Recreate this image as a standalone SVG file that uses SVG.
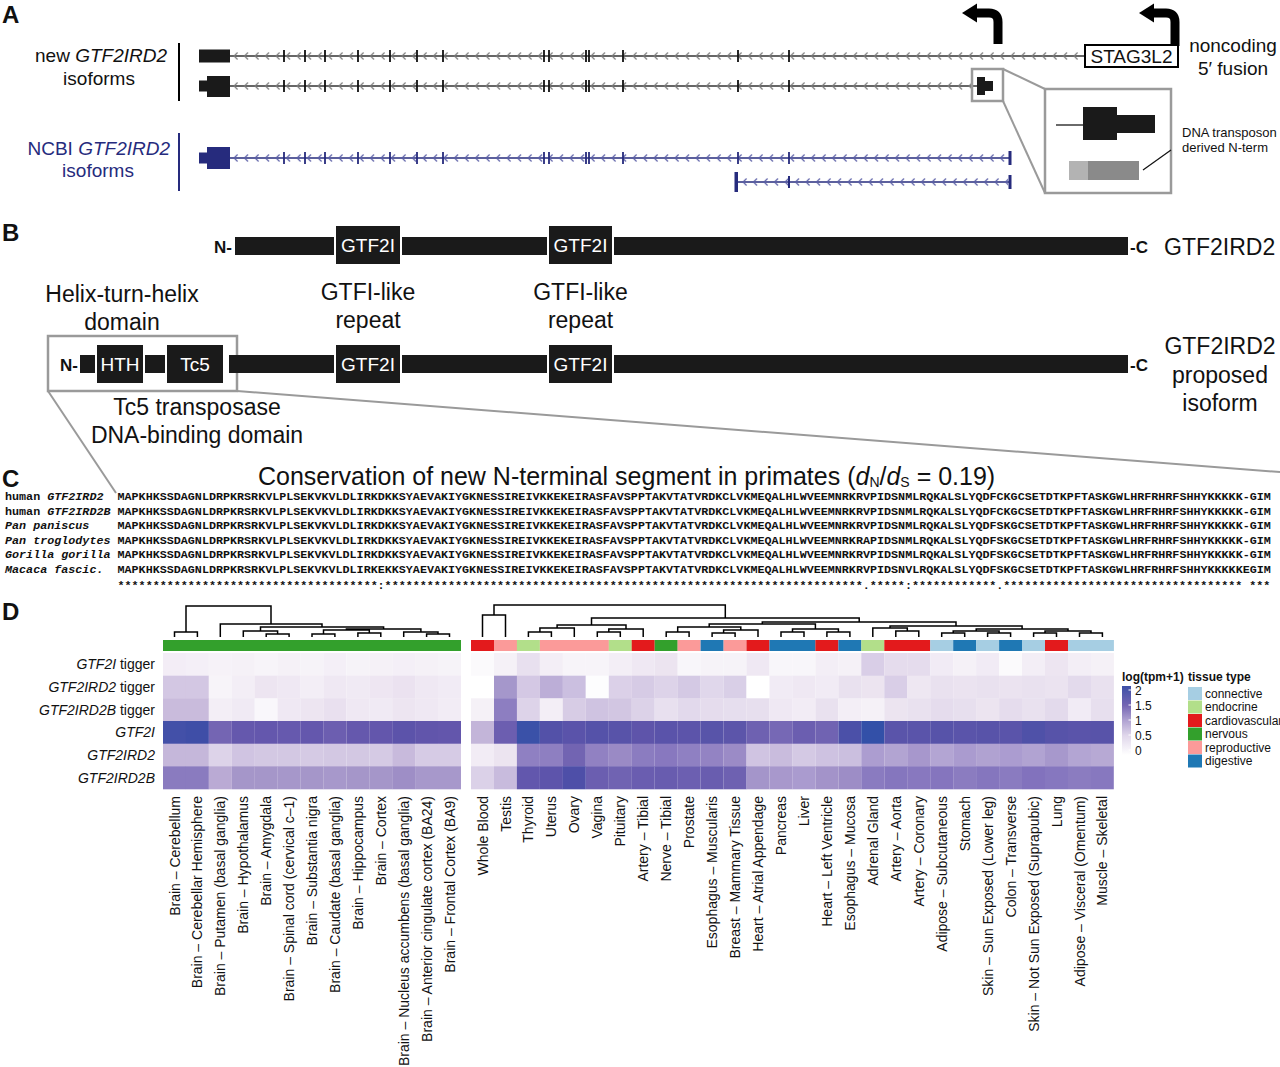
<svg xmlns="http://www.w3.org/2000/svg" width="1280" height="1067" viewBox="0 0 1280 1067">
<style>
text{font-family:"Liberation Sans",Arial,Helvetica,sans-serif;fill:#111}
.it{font-style:italic}
.pl{font-weight:bold;font-size:24px}
.a19{font-size:19px}
.b23{font-size:23px}
.wl{fill:#fff;font-size:19px;text-anchor:middle}
.nc{font-weight:bold;font-size:17px}
.mono{font-family:"Liberation Mono","Courier New",monospace;font-weight:bold;font-size:11.72px}
.rl{font-size:14px;text-anchor:end}
.cl{font-size:14px;text-anchor:end}
.lg{font-size:12px}
.lgb{font-size:12px;font-weight:bold}
.navy{fill:#262b7d}
.dg{fill:none;stroke:#000;stroke-width:1.5}
.zf{fill:none;stroke:#9a9a9a;stroke-width:2.5}
.box{fill:#1a1a1a;stroke:#fff;stroke-width:2}
</style>
<defs>
<pattern id="chk" patternUnits="userSpaceOnUse" x="0" y="-5" width="10.5" height="10"><path d="M6.5,1.5 L3,5 L6.5,8.5" fill="none" stroke="#7a7a7a" stroke-width="1.1"/></pattern>
<pattern id="chn" patternUnits="userSpaceOnUse" x="0" y="-5" width="10.5" height="10"><path d="M6.5,1.5 L3,5 L6.5,8.5" fill="none" stroke="#5a5ea6" stroke-width="1.1"/></pattern>
<linearGradient id="scale" x1="0" y1="0" x2="0" y2="1">
<stop offset="0" stop-color="#3d4fa6"/><stop offset="0.28" stop-color="#7465b3"/><stop offset="0.5" stop-color="#b0a3d2"/><stop offset="0.72" stop-color="#e0d7eb"/><stop offset="1" stop-color="#ffffff"/>
</linearGradient>
</defs>
<rect width="1280" height="1067" fill="#fff"/>

<!-- ================= PANEL A ================= -->
<g id="panelA">
<text class="pl" x="2" y="23">A</text>
<g id="labelNew">
<text class="a19" x="167" y="62" text-anchor="end">new <tspan class="it">GTF2IRD2</tspan></text>
<text class="a19" x="99" y="85" text-anchor="middle">isoforms</text>
<line x1="179" y1="43" x2="179" y2="101" stroke="#000" stroke-width="2"/>
</g>
<g id="labelNCBI">
<text class="a19 navy" x="170" y="155" text-anchor="end">NCBI <tspan class="it">GTF2IRD2</tspan></text>
<text class="a19 navy" x="98" y="177" text-anchor="middle">isoforms</text>
<line x1="179" y1="133" x2="179" y2="191" stroke="#262b7d" stroke-width="2"/>
</g>
<g id="trackNew1">
<line x1="230" y1="56" x2="1085" y2="56" stroke="#333" stroke-width="1.3"/>
<g transform="translate(231,56)"><rect y="-5" width="852" height="10" fill="url(#chk)"/></g>
<rect x="199" y="49.5" width="31" height="13" fill="#1a1a1a"/>
<path d="M284,50V62M305,50V62M325,50V62M358,50V62M390,50V62M417,50V62M443,50V62M544,50V62M549,50V62M586,50V62M589,50V62M623,50V62M738,50V62M789,50V62" stroke="#111" stroke-width="1.8"/>
</g>
<g id="trackNew2">
<line x1="230" y1="86" x2="977" y2="86" stroke="#333" stroke-width="1.3"/>
<g transform="translate(231,86)"><rect y="-5" width="745" height="10" fill="url(#chk)"/></g>
<rect x="199" y="80.5" width="9" height="11" fill="#1a1a1a"/>
<rect x="207" y="76" width="23" height="21" fill="#1a1a1a"/>
<path d="M284,80V92M305,80V92M325,80V92M358,80V92M390,80V92M417,80V92M443,80V92M544,80V92M549,80V92M586,80V92M589,80V92M623,80V92M738,80V92M789,80V92" stroke="#111" stroke-width="1.8"/>
<rect x="977" y="77" width="8" height="18" fill="#1a1a1a"/>
<rect x="984" y="81" width="9" height="10" fill="#1a1a1a"/>
</g>
<g id="trackNCBI1">
<line x1="230" y1="158" x2="1010" y2="158" stroke="#262b7d" stroke-width="1.3"/>
<g transform="translate(231,158)"><rect y="-5" width="777" height="10" fill="url(#chn)"/></g>
<rect x="199" y="152.5" width="9" height="11" fill="#262b7d"/>
<rect x="207" y="147" width="23" height="22" fill="#262b7d"/>
<path d="M284,152V164M305,152V164M325,152V164M358,152V164M390,152V164M417,152V164M443,152V164M544,152V164M549,152V164M586,152V164M589,152V164M623,152V164M738,152V164M789,152V164" stroke="#262b7d" stroke-width="1.8"/>
<rect x="1008.5" y="151" width="3" height="14" fill="#262b7d"/>
</g>
<g id="trackNCBI2">
<line x1="737" y1="182" x2="1010" y2="182" stroke="#262b7d" stroke-width="1.3"/>
<g transform="translate(740,182)"><rect y="-5" width="268" height="10" fill="url(#chn)"/></g>
<rect x="734.5" y="172" width="3.5" height="20" fill="#262b7d"/>
<path d="M789,176V188" stroke="#262b7d" stroke-width="2"/>
<rect x="1008.5" y="175" width="3" height="14" fill="#262b7d"/>
</g>
<g id="promoter1">
<path d="M998,44 V22 Q998,13 989,13 H975" fill="none" stroke="#000" stroke-width="9"/>
<polygon points="962,13 977,3.5 977,22.5" fill="#000"/>
</g>
<g id="promoter2">
<path d="M1175,46 V22 Q1175,13 1166,13 H1152" fill="none" stroke="#000" stroke-width="9"/>
<polygon points="1139,13 1154,3.5 1154,22.5" fill="#000"/>
</g>
<g id="stag3l2">
<rect x="1085" y="45" width="93" height="22" fill="#fff" stroke="#000" stroke-width="2"/>
<text class="a19" x="1131.5" y="63" text-anchor="middle">STAG3L2</text>
</g>
<text class="a19" x="1233" y="52" text-anchor="middle">noncoding</text>
<text class="a19" x="1233" y="75" text-anchor="middle">5′ fusion</text>
<g id="inset">
<rect class="zf" x="972" y="69" width="31" height="32"/>
<line x1="1003" y1="69" x2="1045" y2="89" stroke="#9a9a9a" stroke-width="2"/>
<line x1="1003" y1="101" x2="1045" y2="193" stroke="#9a9a9a" stroke-width="2"/>
<rect class="zf" x="1045" y="89" width="126" height="104"/>
<line x1="1056" y1="125" x2="1083" y2="125" stroke="#1a1a1a" stroke-width="1.3"/>
<rect x="1083" y="107" width="34" height="33" fill="#1a1a1a"/>
<rect x="1116" y="115" width="39" height="18" fill="#1a1a1a"/>
<rect x="1069" y="161" width="20" height="19" fill="#b3b3b3"/>
<rect x="1088" y="161" width="51" height="19" fill="#8a8a8a"/>
<line x1="1143" y1="170" x2="1171" y2="150" stroke="#111" stroke-width="1.2"/>
<text x="1182" y="137" font-size="13">DNA transposon</text>
<text x="1182" y="152" font-size="13">derived N-term</text>
</g>
</g>

<!-- ================= PANEL B ================= -->
<g id="panelB">
<text class="pl" x="2" y="241">B</text>
<g id="proteinTop">
<text class="nc" x="232" y="253" text-anchor="end">N-</text>
<rect x="235" y="237" width="893" height="18" fill="#1a1a1a"/>
<rect class="box" x="335" y="225" width="66" height="40"/>
<text class="wl" x="368" y="252">GTF2I</text>
<rect class="box" x="548" y="225" width="65" height="40"/>
<text class="wl" x="580.5" y="252">GTF2I</text>
<text class="nc" x="1130" y="253">-C</text>
<text class="b23" x="1164" y="255">GTF2IRD2</text>
</g>
<g id="proteinBottom">
<rect class="zf" x="48" y="336" width="189" height="55" stroke-width="2"/>
<text class="nc" x="78" y="371" text-anchor="end">N-</text>
<rect x="80" y="355" width="16" height="18" fill="#1a1a1a"/>
<rect x="144" y="355" width="22" height="18" fill="#1a1a1a"/>
<rect x="229" y="355" width="899" height="18" fill="#1a1a1a"/>
<rect class="box" x="96" y="344" width="48" height="40"/>
<text class="wl" x="120" y="371">HTH</text>
<rect class="box" x="166" y="344" width="58" height="40"/>
<text class="wl" x="195" y="371">Tc5</text>
<rect class="box" x="335" y="344" width="66" height="40"/>
<text class="wl" x="368" y="371">GTF2I</text>
<rect class="box" x="548" y="344" width="65" height="40"/>
<text class="wl" x="580.5" y="371">GTF2I</text>
<text class="nc" x="1130" y="371">-C</text>
<text class="b23" x="1220" y="354" text-anchor="middle">GTF2IRD2</text>
<text class="b23" x="1220" y="383" text-anchor="middle">proposed</text>
<text class="b23" x="1220" y="411" text-anchor="middle">isoform</text>
</g>
<text class="b23" x="122" y="302" text-anchor="middle">Helix-turn-helix</text>
<text class="b23" x="122" y="330" text-anchor="middle">domain</text>
<text class="b23" x="368" y="300" text-anchor="middle">GTFI-like</text>
<text class="b23" x="368" y="328" text-anchor="middle">repeat</text>
<text class="b23" x="580.5" y="300" text-anchor="middle">GTFI-like</text>
<text class="b23" x="580.5" y="328" text-anchor="middle">repeat</text>
<text class="b23" x="197" y="415" text-anchor="middle">Tc5 transposase</text>
<text class="b23" x="197" y="443" text-anchor="middle">DNA-binding domain</text>
<line x1="48" y1="391" x2="116" y2="493" stroke="#9a9a9a" stroke-width="2"/>
<line x1="237" y1="391" x2="1280" y2="472" stroke="#9a9a9a" stroke-width="2"/>
</g>

<!-- ================= PANEL C ================= -->
<g id="panelC">
<text class="pl" x="2" y="487">C</text>
<text x="258" y="484.5" font-size="25">Conservation of new N-terminal segment in primates (<tspan class="it">d</tspan><tspan font-size="14" dy="2.5">N</tspan><tspan dy="-2.5">/</tspan><tspan class="it">d</tspan><tspan font-size="14" dy="2.5">S</tspan><tspan dy="-2.5"> = 0.19)</tspan></text>
<text class="mono" x="5" y="500">human <tspan class="it">GTF2IRD2</tspan></text>
<text class="mono" x="5" y="514.5">human <tspan class="it">GTF2IRD2B</tspan></text>
<text class="mono it" x="5" y="529">Pan paniscus</text>
<text class="mono it" x="5" y="543.5">Pan troglodytes</text>
<text class="mono it" x="5" y="558">Gorilla gorilla</text>
<text class="mono it" x="5" y="572.5">Macaca fascic.</text>
<text class="mono" x="117.5" y="500">MAPKHKSSDAGNLDRPKRSRKVLPLSEKVKVLDLIRKDKKSYAEVAKIYGKNESSIREIVKKEKEIRASFAVSPPTAKVTATVRDKCLVKMEQALHLWVEEMNRKRVPIDSNMLRQKALSLYQDFCKGCSETDTKPFTASKGWLHRFRHRFSHHYKKKKK-GIM</text>
<text class="mono" x="117.5" y="514.5">MAPKHKSSDAGNLDRPKRSRKVLPLSEKVKVLDLIRKDKKSYAEVAKIYGKNESSIREIVKKEKEIRASFAVSPPTAKVTATVRDKCLVKMEQALHLWVEEMNRKRVPIDSNMLRQKALSLYQDFCKGCSETDTKPFTASKGWLHRFRHRFSHHYKKKKK-GIM</text>
<text class="mono" x="117.5" y="529">MAPKHKSSDAGNLDRPKRSRKVLPLSEKVKVLDLIRKDKKSYAEVAKIYGKNESSIREIVKKEKEIRASFAVSPPTAKVTATVRDKCLVKMEQALHLWVEEMNRKRVPIDSNMLRQKALSLYQDFSKGCSETDTKPFTASKGWLHRFRHRFSHHYKKKKK-GIM</text>
<text class="mono" x="117.5" y="543.5">MAPKHKSSDAGNLDRPKRSRKVLPLSEKVKVLDLIRKDKKSYAEVAKIYGKNESSIREIVKKEKEIRASFAVSPPTAKVTATVRDKCLVKMEQALHLWVEEMNRKRAPIDSNMLRQKALSLYQDFSKGCSETDTKPFTASKGWLHRFRHRFSHHYKKKKK-GIM</text>
<text class="mono" x="117.5" y="558">MAPKHKSSDAGNLDRPKRSRKVLPLSEKVKVLDLIRKDKKSYAEVAKIYGKNESSIREIVKKEKEIRASFAVSPPTAKVTATVRDKCLVKMEQALHLWVEEMNRKRVPIDSNMLRQKALSLYQDFSKGCSETDTKPFTASKGWLHRFRHRFSHHYKKKKK-GIM</text>
<text class="mono" x="117.5" y="572.5">MAPKHKSSDAGNLDRPKRSRKVLPLSEKVKVLDLIRKEKKSYAEVAKIYGKNESSIREIVKKEKEIRASFAVSPPTAKVTATVRDKCLVKMEQALHLWVEEMNRKRVPIDSNVLRQKALSLYQDFSKGCSETDTKPFTASKGWLHRFRHRFSHHYKKKKKEGIM</text>
<g id="consensus">
<text class="mono" x="117.5" y="589">*************************************</text>
<text class="mono" x="377.6" y="589">:</text>
<text class="mono" x="384.6" y="589">********************************************************************</text>
<text class="mono" x="862.7" y="589">.</text>
<text class="mono" x="869.7" y="589">*****</text>
<text class="mono" x="904.9" y="589">:</text>
<text class="mono" x="911.9" y="589">************</text>
<text class="mono" x="996.3" y="589">.</text>
<text class="mono" x="1003.3" y="589">**********************************</text>
<text class="mono" x="1249.3" y="589">***</text>
</g>
</g>

<!-- ================= PANEL D ================= -->
<g id="panelD">
<text class="pl" x="2" y="620">D</text>
<g id="dendrograms">
<path class="dg" d="M174.5,637V632H197.4V637 M266.2,637V634H289.1V637 M243.3,637V631H277.6V634 M312,637V634H334.9V637 M357.9,637V633H380.8V637 M323.5,634V630H369.3V633 M426.6,637V634H449.5V637 M403.7,637V632H438V634 M346.4,630V629H420.9V632 M260.5,631V627H383.6V629 M220.3,637V624H322V627 M186,632V606H271V624"/>
<path class="dg" d="M482.5,637V615H505.5V637 M528.4,637V632H551.4V637 M539.9,632V628H574.3V637 M597.3,637V632H620.3V637 M608.8,632V629H643.2V637 M557.1,628V625H626V629 M666.2,637V632H689.1V637 M712.1,637V633H735.1V637 M723.6,633V630H758V637 M677.7,632V627H740.8V630 M781,637V632H804V637 M826.9,637V632H849.9V637 M792.5,632V629H838.4V632 M709.2,627V624H815.4V629 M895.8,637V631H918.8V637 M872.8,637V628H907.3V631 M941.7,637V633H964.7V637 M987.6,637V633H1010.6V637 M953.2,633V631H999.1V633 M1033.6,637V633H1056.5V637 M1079.5,637V633H1102.4V637 M1045,633V631H1091V633 M976.2,631V629H1068V631 M890,628V626H1022.1V629 M762.3,624V622H956V626 M591.5,625V618H859.2V622 M494,615V605H725.3V618"/>
</g>
<g id="tissueBar">
<rect x="163" y="640" width="298" height="11" fill="#33a02c"/>
<rect x="471" y="640" width="23" height="11" fill="#e31a1c"/>
<rect x="494" y="640" width="23" height="11" fill="#fb9a99"/>
<rect x="516.9" y="640" width="23" height="11" fill="#b2df8a"/>
<rect x="539.9" y="640" width="69" height="11" fill="#fb9a99"/>
<rect x="608.8" y="640" width="23" height="11" fill="#b2df8a"/>
<rect x="631.7" y="640" width="23" height="11" fill="#e31a1c"/>
<rect x="654.7" y="640" width="23" height="11" fill="#33a02c"/>
<rect x="677.6" y="640" width="23" height="11" fill="#fb9a99"/>
<rect x="700.6" y="640" width="23" height="11" fill="#1f78b4"/>
<rect x="723.6" y="640" width="23" height="11" fill="#fb9a99"/>
<rect x="746.5" y="640" width="23" height="11" fill="#e31a1c"/>
<rect x="769.5" y="640" width="46" height="11" fill="#1f78b4"/>
<rect x="815.4" y="640" width="23" height="11" fill="#e31a1c"/>
<rect x="838.4" y="640" width="23" height="11" fill="#1f78b4"/>
<rect x="861.3" y="640" width="23" height="11" fill="#b2df8a"/>
<rect x="884.3" y="640" width="46" height="11" fill="#e31a1c"/>
<rect x="930.2" y="640" width="23" height="11" fill="#a6cee3"/>
<rect x="953.2" y="640" width="23" height="11" fill="#1f78b4"/>
<rect x="976.1" y="640" width="23" height="11" fill="#a6cee3"/>
<rect x="999.1" y="640" width="23" height="11" fill="#1f78b4"/>
<rect x="1022" y="640" width="23" height="11" fill="#a6cee3"/>
<rect x="1045" y="640" width="23" height="11" fill="#e31a1c"/>
<rect x="1068" y="640" width="45.9" height="11" fill="#a6cee3"/>
</g>
<g id="rowLabels">
<text class="rl" x="155" y="669.3"><tspan class="it">GTF2I</tspan> tigger</text>
<text class="rl" x="155" y="692"><tspan class="it">GTF2IRD2</tspan> tigger</text>
<text class="rl" x="155" y="714.7"><tspan class="it">GTF2IRD2B</tspan> tigger</text>
<text class="rl it" x="155" y="737.3">GTF2I</text>
<text class="rl it" x="155" y="760">GTF2IRD2</text>
<text class="rl it" x="155" y="782.7">GTF2IRD2B</text>
</g>
<g id="heatmap">
<g transform="translate(0,653)">
<rect x="163" width="23" height="23" fill="#f3edf6"/><rect x="185.9" width="23" height="23" fill="#f4eff7"/><rect x="208.8" width="23" height="23" fill="#f6f2f8"/><rect x="231.8" width="23" height="23" fill="#f5f1f7"/><rect x="254.7" width="23" height="23" fill="#f7f4f9"/><rect x="277.6" width="23" height="23" fill="#f5f1f7"/><rect x="300.5" width="23" height="23" fill="#f6f3f8"/><rect x="323.4" width="23" height="23" fill="#f4eff7"/><rect x="346.4" width="23" height="23" fill="#f6f3f8"/><rect x="369.3" width="23" height="23" fill="#f5f1f7"/><rect x="392.2" width="23" height="23" fill="#f4eff7"/><rect x="415.1" width="23" height="23" fill="#f5f1f7"/><rect x="438" width="23" height="23" fill="#f6f3f8"/>
<rect x="471" width="23" height="23" fill="#fbfafc"/><rect x="494" width="23" height="23" fill="#f5f1f7"/><rect x="516.9" width="23" height="23" fill="#e8e0ef"/><rect x="539.9" width="23" height="23" fill="#f3eef6"/><rect x="562.8" width="23" height="23" fill="#f7f4f9"/><rect x="585.8" width="23" height="23" fill="#f7f4f9"/><rect x="608.8" width="23" height="23" fill="#f3eef6"/><rect x="631.7" width="23" height="23" fill="#efe8f3"/><rect x="654.7" width="23" height="23" fill="#ece4f0"/><rect x="677.6" width="23" height="23" fill="#f8f6fa"/><rect x="700.6" width="23" height="23" fill="#f6f3f8"/><rect x="723.6" width="23" height="23" fill="#f6f3f8"/><rect x="746.5" width="23" height="23" fill="#efe8f3"/><rect x="769.5" width="23" height="23" fill="#f8f6fa"/><rect x="792.4" width="23" height="23" fill="#f8f6fa"/><rect x="815.4" width="23" height="23" fill="#f3eef6"/><rect x="838.4" width="23" height="23" fill="#f5f1f7"/><rect x="861.3" width="23" height="23" fill="#d9cee7"/><rect x="884.3" width="23" height="23" fill="#e5dced"/><rect x="907.2" width="23" height="23" fill="#e5dced"/><rect x="930.2" width="23" height="23" fill="#f1ebf5"/><rect x="953.2" width="23" height="23" fill="#f5f1f7"/><rect x="976.1" width="23" height="23" fill="#f1ebf5"/><rect x="999.1" width="23" height="23" fill="#fbfafc"/><rect x="1022" width="23" height="23" fill="#f3eef6"/><rect x="1045" width="23" height="23" fill="#ede5f1"/><rect x="1068" width="23" height="23" fill="#f3eef6"/><rect x="1090.9" width="23" height="23" fill="#f5f1f7"/>
</g>
<g transform="translate(0,675.7)">
<rect x="163" width="23" height="23" fill="#d3c7e3"/><rect x="185.9" width="23" height="23" fill="#d3c7e3"/><rect x="208.8" width="23" height="23" fill="#f7f4f9"/><rect x="231.8" width="23" height="23" fill="#f3eef6"/><rect x="254.7" width="23" height="23" fill="#ede5f1"/><rect x="277.6" width="23" height="23" fill="#efe8f3"/><rect x="300.5" width="23" height="23" fill="#f3eef6"/><rect x="323.4" width="23" height="23" fill="#efe8f3"/><rect x="346.4" width="23" height="23" fill="#f0eaf4"/><rect x="369.3" width="23" height="23" fill="#eee6f2"/><rect x="392.2" width="23" height="23" fill="#ebe2f0"/><rect x="415.1" width="23" height="23" fill="#efe8f3"/><rect x="438" width="23" height="23" fill="#f1ebf5"/>
<rect x="471" width="23" height="23" fill="#ffffff"/><rect x="494" width="23" height="23" fill="#a597cb"/><rect x="516.9" width="23" height="23" fill="#d4c8e4"/><rect x="539.9" width="23" height="23" fill="#bcaed7"/><rect x="562.8" width="23" height="23" fill="#cbbfe0"/><rect x="585.8" width="23" height="23" fill="#fdfdfe"/><rect x="608.8" width="23" height="23" fill="#dbd0e8"/><rect x="631.7" width="23" height="23" fill="#d6cbe5"/><rect x="654.7" width="23" height="23" fill="#ddd3e9"/><rect x="677.6" width="23" height="23" fill="#d4c9e4"/><rect x="700.6" width="23" height="23" fill="#e0d7eb"/><rect x="723.6" width="23" height="23" fill="#d9cfe7"/><rect x="746.5" width="23" height="23" fill="#ffffff"/><rect x="769.5" width="23" height="23" fill="#f1ebf5"/><rect x="792.4" width="23" height="23" fill="#efe8f3"/><rect x="815.4" width="23" height="23" fill="#f1ebf5"/><rect x="838.4" width="23" height="23" fill="#e9e1ef"/><rect x="861.3" width="23" height="23" fill="#ece4f0"/><rect x="884.3" width="23" height="23" fill="#d9cee7"/><rect x="907.2" width="23" height="23" fill="#eee7f2"/><rect x="930.2" width="23" height="23" fill="#e9e1ef"/><rect x="953.2" width="23" height="23" fill="#ebe3f0"/><rect x="976.1" width="23" height="23" fill="#e9e1ef"/><rect x="999.1" width="23" height="23" fill="#ebe3f0"/><rect x="1022" width="23" height="23" fill="#e9e1ef"/><rect x="1045" width="23" height="23" fill="#ebe3f0"/><rect x="1068" width="23" height="23" fill="#e3daec"/><rect x="1090.9" width="23" height="23" fill="#e9e1ef"/>
</g>
<g transform="translate(0,698.3)">
<rect x="163" width="23" height="23" fill="#c9bbdc"/><rect x="185.9" width="23" height="23" fill="#c9bbdc"/><rect x="208.8" width="23" height="23" fill="#f3eef6"/><rect x="231.8" width="23" height="23" fill="#f0eaf4"/><rect x="254.7" width="23" height="23" fill="#f9f7fb"/><rect x="277.6" width="23" height="23" fill="#efe8f3"/><rect x="300.5" width="23" height="23" fill="#ede5f1"/><rect x="323.4" width="23" height="23" fill="#e9e0ef"/><rect x="346.4" width="23" height="23" fill="#efe8f3"/><rect x="369.3" width="23" height="23" fill="#f0eaf4"/><rect x="392.2" width="23" height="23" fill="#ede5f1"/><rect x="415.1" width="23" height="23" fill="#efe8f3"/><rect x="438" width="23" height="23" fill="#f2ecf5"/>
<rect x="471" width="23" height="23" fill="#f5f1f7"/><rect x="494" width="23" height="23" fill="#8d7ec1"/><rect x="516.9" width="23" height="23" fill="#ddd3e9"/><rect x="539.9" width="23" height="23" fill="#f3eef6"/><rect x="562.8" width="23" height="23" fill="#d7cce5"/><rect x="585.8" width="23" height="23" fill="#cfc3e1"/><rect x="608.8" width="23" height="23" fill="#d2c6e2"/><rect x="631.7" width="23" height="23" fill="#dcd2e8"/><rect x="654.7" width="23" height="23" fill="#e8e0ef"/><rect x="677.6" width="23" height="23" fill="#e2d9ec"/><rect x="700.6" width="23" height="23" fill="#e5dced"/><rect x="723.6" width="23" height="23" fill="#e6deee"/><rect x="746.5" width="23" height="23" fill="#e7dfee"/><rect x="769.5" width="23" height="23" fill="#efe8f3"/><rect x="792.4" width="23" height="23" fill="#f2ecf5"/><rect x="815.4" width="23" height="23" fill="#e9e1ef"/><rect x="838.4" width="23" height="23" fill="#f3eef6"/><rect x="861.3" width="23" height="23" fill="#f5f1f7"/><rect x="884.3" width="23" height="23" fill="#ece4f0"/><rect x="907.2" width="23" height="23" fill="#e9e1ef"/><rect x="930.2" width="23" height="23" fill="#e5dced"/><rect x="953.2" width="23" height="23" fill="#e7dfee"/><rect x="976.1" width="23" height="23" fill="#ece4f0"/><rect x="999.1" width="23" height="23" fill="#e5dced"/><rect x="1022" width="23" height="23" fill="#e9e1ef"/><rect x="1045" width="23" height="23" fill="#e3daec"/><rect x="1068" width="23" height="23" fill="#f1ebf5"/><rect x="1090.9" width="23" height="23" fill="#e7dfee"/>
</g>
<g transform="translate(0,721)">
<rect x="163" width="23" height="23" fill="#4350a8"/><rect x="185.9" width="23" height="23" fill="#3f4ea7"/><rect x="208.8" width="23" height="23" fill="#7465b3"/><rect x="231.8" width="23" height="23" fill="#6558ad"/><rect x="254.7" width="23" height="23" fill="#6457ad"/><rect x="277.6" width="23" height="23" fill="#6659ae"/><rect x="300.5" width="23" height="23" fill="#6457ad"/><rect x="323.4" width="23" height="23" fill="#6c5eb0"/><rect x="346.4" width="23" height="23" fill="#6558ad"/><rect x="369.3" width="23" height="23" fill="#6356ac"/><rect x="392.2" width="23" height="23" fill="#5c53aa"/><rect x="415.1" width="23" height="23" fill="#6155ab"/><rect x="438" width="23" height="23" fill="#6356ac"/>
<rect x="471" width="23" height="23" fill="#c3b5d9"/><rect x="494" width="23" height="23" fill="#6c5eb0"/><rect x="516.9" width="23" height="23" fill="#3a51a8"/><rect x="539.9" width="23" height="23" fill="#5351a8"/><rect x="562.8" width="23" height="23" fill="#5a53aa"/><rect x="585.8" width="23" height="23" fill="#5552a9"/><rect x="608.8" width="23" height="23" fill="#5853a9"/><rect x="631.7" width="23" height="23" fill="#5e54aa"/><rect x="654.7" width="23" height="23" fill="#5a53aa"/><rect x="677.6" width="23" height="23" fill="#5c54aa"/><rect x="700.6" width="23" height="23" fill="#5854a9"/><rect x="723.6" width="23" height="23" fill="#5c55aa"/><rect x="746.5" width="23" height="23" fill="#6e61b1"/><rect x="769.5" width="23" height="23" fill="#7668b5"/><rect x="792.4" width="23" height="23" fill="#6b5eb0"/><rect x="815.4" width="23" height="23" fill="#7063b2"/><rect x="838.4" width="23" height="23" fill="#4b50a8"/><rect x="861.3" width="23" height="23" fill="#3350a8"/><rect x="884.3" width="23" height="23" fill="#5a54aa"/><rect x="907.2" width="23" height="23" fill="#5a54aa"/><rect x="930.2" width="23" height="23" fill="#5753a9"/><rect x="953.2" width="23" height="23" fill="#5a54aa"/><rect x="976.1" width="23" height="23" fill="#5853a9"/><rect x="999.1" width="23" height="23" fill="#5a54aa"/><rect x="1022" width="23" height="23" fill="#4f51a8"/><rect x="1045" width="23" height="23" fill="#5753a9"/><rect x="1068" width="23" height="23" fill="#5a54aa"/><rect x="1090.9" width="23" height="23" fill="#5853a9"/>
</g>
<g transform="translate(0,743.7)">
<rect x="163" width="23" height="23" fill="#c5b7da"/><rect x="185.9" width="23" height="23" fill="#c5b7da"/><rect x="208.8" width="23" height="23" fill="#ddd3e9"/><rect x="231.8" width="23" height="23" fill="#d0c4e2"/><rect x="254.7" width="23" height="23" fill="#d3c8e3"/><rect x="277.6" width="23" height="23" fill="#d3c8e3"/><rect x="300.5" width="23" height="23" fill="#d5cae4"/><rect x="323.4" width="23" height="23" fill="#d3c8e3"/><rect x="346.4" width="23" height="23" fill="#d3c8e3"/><rect x="369.3" width="23" height="23" fill="#d5cae4"/><rect x="392.2" width="23" height="23" fill="#c8badc"/><rect x="415.1" width="23" height="23" fill="#d6cbe5"/><rect x="438" width="23" height="23" fill="#d6cbe5"/>
<rect x="471" width="23" height="23" fill="#f2ecf5"/><rect x="494" width="23" height="23" fill="#ece4f0"/><rect x="516.9" width="23" height="23" fill="#8f80c2"/><rect x="539.9" width="23" height="23" fill="#8e7fc1"/><rect x="562.8" width="23" height="23" fill="#7264b2"/><rect x="585.8" width="23" height="23" fill="#9181c2"/><rect x="608.8" width="23" height="23" fill="#9a8ac5"/><rect x="631.7" width="23" height="23" fill="#8b7cc0"/><rect x="654.7" width="23" height="23" fill="#8878bf"/><rect x="677.6" width="23" height="23" fill="#8f80c2"/><rect x="700.6" width="23" height="23" fill="#9383c3"/><rect x="723.6" width="23" height="23" fill="#9b8bc6"/><rect x="746.5" width="23" height="23" fill="#d0c4e2"/><rect x="769.5" width="23" height="23" fill="#c9bcdd"/><rect x="792.4" width="23" height="23" fill="#d4c9e4"/><rect x="815.4" width="23" height="23" fill="#cec2e1"/><rect x="838.4" width="23" height="23" fill="#cbbfdf"/><rect x="861.3" width="23" height="23" fill="#ac9dd0"/><rect x="884.3" width="23" height="23" fill="#b2a4d2"/><rect x="907.2" width="23" height="23" fill="#a797cc"/><rect x="930.2" width="23" height="23" fill="#b3a5d3"/><rect x="953.2" width="23" height="23" fill="#aa9bcf"/><rect x="976.1" width="23" height="23" fill="#b0a2d1"/><rect x="999.1" width="23" height="23" fill="#ab9cd0"/><rect x="1022" width="23" height="23" fill="#b1a3d2"/><rect x="1045" width="23" height="23" fill="#a798cc"/><rect x="1068" width="23" height="23" fill="#b3a5d3"/><rect x="1090.9" width="23" height="23" fill="#b7a9d4"/>
</g>
<g transform="translate(0,766.3)">
<rect x="163" width="23" height="23" fill="#8a7bbf"/><rect x="185.9" width="23" height="23" fill="#8a7bbf"/><rect x="208.8" width="23" height="23" fill="#baaad4"/><rect x="231.8" width="23" height="23" fill="#a596c9"/><rect x="254.7" width="23" height="23" fill="#a596c9"/><rect x="277.6" width="23" height="23" fill="#a697ca"/><rect x="300.5" width="23" height="23" fill="#a596c9"/><rect x="323.4" width="23" height="23" fill="#a798cb"/><rect x="346.4" width="23" height="23" fill="#a596c9"/><rect x="369.3" width="23" height="23" fill="#a596c9"/><rect x="392.2" width="23" height="23" fill="#9e8ec6"/><rect x="415.1" width="23" height="23" fill="#a798cb"/><rect x="438" width="23" height="23" fill="#a798cb"/>
<rect x="471" width="23" height="23" fill="#dbd1e8"/><rect x="494" width="23" height="23" fill="#c8bbdd"/><rect x="516.9" width="23" height="23" fill="#6257ad"/><rect x="539.9" width="23" height="23" fill="#5d54ab"/><rect x="562.8" width="23" height="23" fill="#4e4fa8"/><rect x="585.8" width="23" height="23" fill="#6b5eb0"/><rect x="608.8" width="23" height="23" fill="#7063b2"/><rect x="631.7" width="23" height="23" fill="#6a5db0"/><rect x="654.7" width="23" height="23" fill="#685caf"/><rect x="677.6" width="23" height="23" fill="#6c5fb1"/><rect x="700.6" width="23" height="23" fill="#695daf"/><rect x="723.6" width="23" height="23" fill="#6e61b1"/><rect x="746.5" width="23" height="23" fill="#a495ca"/><rect x="769.5" width="23" height="23" fill="#a898cc"/><rect x="792.4" width="23" height="23" fill="#aa9bcf"/><rect x="815.4" width="23" height="23" fill="#a393c9"/><rect x="838.4" width="23" height="23" fill="#9d8dc6"/><rect x="861.3" width="23" height="23" fill="#8a7bc0"/><rect x="884.3" width="23" height="23" fill="#8576be"/><rect x="907.2" width="23" height="23" fill="#8878bf"/><rect x="930.2" width="23" height="23" fill="#8575be"/><rect x="953.2" width="23" height="23" fill="#8b7cc0"/><rect x="976.1" width="23" height="23" fill="#8576be"/><rect x="999.1" width="23" height="23" fill="#8a7bc0"/><rect x="1022" width="23" height="23" fill="#8272bd"/><rect x="1045" width="23" height="23" fill="#8677bf"/><rect x="1068" width="23" height="23" fill="#8b7cc0"/><rect x="1090.9" width="22.9" height="23" fill="#8778bf"/>
</g>
</g>
<g id="colLabels">
<text class="cl" transform="translate(179.5,796) rotate(-90)">Brain – Cerebellum</text>
<text class="cl" transform="translate(202.4,796) rotate(-90)">Brain – Cerebellar Hemisphere</text>
<text class="cl" transform="translate(225.3,796) rotate(-90)">Brain – Putamen (basal ganglia)</text>
<text class="cl" transform="translate(248.3,796) rotate(-90)">Brain – Hypothalamus</text>
<text class="cl" transform="translate(271.2,796) rotate(-90)">Brain – Amygdala</text>
<text class="cl" transform="translate(294.1,796) rotate(-90)">Brain – Spinal cord (cervical c–1)</text>
<text class="cl" transform="translate(317,796) rotate(-90)">Brain – Substantia nigra</text>
<text class="cl" transform="translate(339.9,796) rotate(-90)">Brain – Caudate (basal ganglia)</text>
<text class="cl" transform="translate(362.9,796) rotate(-90)">Brain – Hippocampus</text>
<text class="cl" transform="translate(385.8,796) rotate(-90)">Brain – Cortex</text>
<text class="cl" transform="translate(408.7,796) rotate(-90)">Brain – Nucleus accumbens (basal ganglia)</text>
<text class="cl" transform="translate(431.6,796) rotate(-90)">Brain – Anterior cingulate cortex (BA24)</text>
<text class="cl" transform="translate(454.5,796) rotate(-90)">Brain – Frontal Cortex (BA9)</text>
<text class="cl" transform="translate(487.5,796) rotate(-90)">Whole Blood</text>
<text class="cl" transform="translate(510.5,796) rotate(-90)">Testis</text>
<text class="cl" transform="translate(533.4,796) rotate(-90)">Thyroid</text>
<text class="cl" transform="translate(556.4,796) rotate(-90)">Uterus</text>
<text class="cl" transform="translate(579.3,796) rotate(-90)">Ovary</text>
<text class="cl" transform="translate(602.3,796) rotate(-90)">Vagina</text>
<text class="cl" transform="translate(625.3,796) rotate(-90)">Pituitary</text>
<text class="cl" transform="translate(648.2,796) rotate(-90)">Artery – Tibial</text>
<text class="cl" transform="translate(671.2,796) rotate(-90)">Nerve – Tibial</text>
<text class="cl" transform="translate(694.1,796) rotate(-90)">Prostate</text>
<text class="cl" transform="translate(717.1,796) rotate(-90)">Esophagus – Muscularis</text>
<text class="cl" transform="translate(740.1,796) rotate(-90)">Breast – Mammary Tissue</text>
<text class="cl" transform="translate(763,796) rotate(-90)">Heart – Atrial Appendage</text>
<text class="cl" transform="translate(786,796) rotate(-90)">Pancreas</text>
<text class="cl" transform="translate(809,796) rotate(-90)">Liver</text>
<text class="cl" transform="translate(831.9,796) rotate(-90)">Heart – Left Ventricle</text>
<text class="cl" transform="translate(854.9,796) rotate(-90)">Esophagus – Mucosa</text>
<text class="cl" transform="translate(877.8,796) rotate(-90)">Adrenal Gland</text>
<text class="cl" transform="translate(900.8,796) rotate(-90)">Artery – Aorta</text>
<text class="cl" transform="translate(923.8,796) rotate(-90)">Artery – Coronary</text>
<text class="cl" transform="translate(946.7,796) rotate(-90)">Adipose – Subcutaneous</text>
<text class="cl" transform="translate(969.7,796) rotate(-90)">Stomach</text>
<text class="cl" transform="translate(992.6,796) rotate(-90)">Skin – Sun Exposed (Lower leg)</text>
<text class="cl" transform="translate(1015.6,796) rotate(-90)">Colon – Transverse</text>
<text class="cl" transform="translate(1038.6,796) rotate(-90)">Skin – Not Sun Exposed (Suprapubic)</text>
<text class="cl" transform="translate(1061.5,796) rotate(-90)">Lung</text>
<text class="cl" transform="translate(1084.5,796) rotate(-90)">Adipose – Visceral (Omentum)</text>
<text class="cl" transform="translate(1107.4,796) rotate(-90)">Muscle – Skeletal</text>
</g>
<g id="legendScale">
<text class="lgb" x="1122" y="681">log(tpm+1)</text>
<rect x="1122" y="686" width="9" height="69" fill="url(#scale)"/>
<path d="M1128.5,690H1131M1128.5,705H1131M1128.5,720H1131M1128.5,735H1131M1128.5,750H1131" stroke="#fff" stroke-width="1"/>
<text class="lg" x="1135" y="695">2</text>
<text class="lg" x="1135" y="709.5">1.5</text>
<text class="lg" x="1135" y="724.5">1</text>
<text class="lg" x="1135" y="739.5">0.5</text>
<text class="lg" x="1135" y="754.5">0</text>
</g>
<g id="legendTissue">
<text class="lgb" x="1188" y="681">tissue type</text>
<rect x="1188" y="687" width="14" height="13" fill="#a6cee3"/><text class="lg" x="1205" y="697.5">connective</text>
<rect x="1188" y="700.5" width="14" height="13" fill="#b2df8a"/><text class="lg" x="1205" y="711">endocrine</text>
<rect x="1188" y="714" width="14" height="13" fill="#e31a1c"/><text class="lg" x="1205" y="724.5">cardiovascular</text>
<rect x="1188" y="727.5" width="14" height="13" fill="#33a02c"/><text class="lg" x="1205" y="738">nervous</text>
<rect x="1188" y="741" width="14" height="13" fill="#fb9a99"/><text class="lg" x="1205" y="751.5">reproductive</text>
<rect x="1188" y="754.5" width="14" height="13" fill="#1f78b4"/><text class="lg" x="1205" y="765">digestive</text>
</g>
</g>
</svg>
